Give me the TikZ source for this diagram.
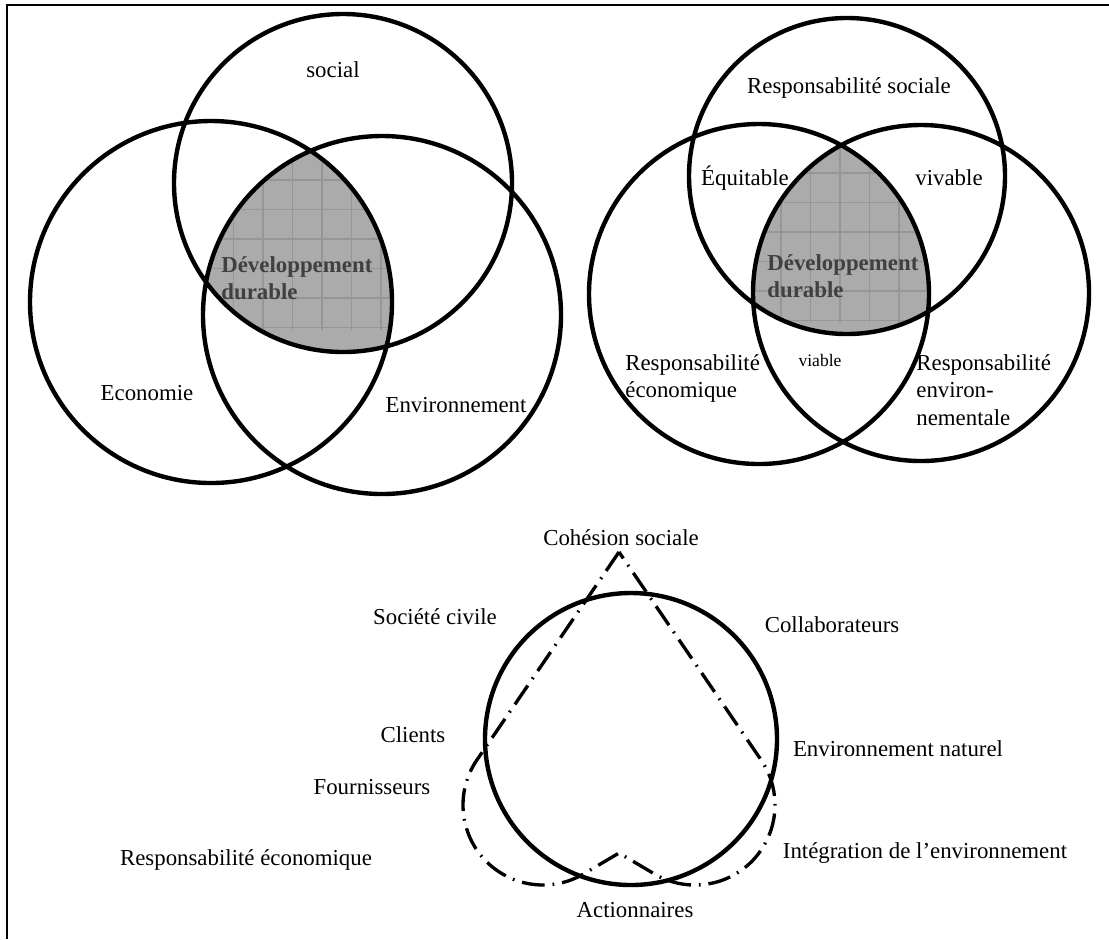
\documentclass[tikz,border=0pt]{standalone}
\usepackage{fontspec}
\setmainfont{Liberation Serif}
\definecolor{ddfill}{HTML}{ABABAB}
\definecolor{ddgrid}{HTML}{969696}
\definecolor{ddtext}{HTML}{404040}

\begin{document}
\begin{tikzpicture}[ring/.style={line width=2.5pt},
    lbl/.style={inner sep=0pt,align=left,font=\fontsize{13}{15.5}\selectfont},
    small/.style={inner sep=0pt,font=\fontsize{10}{12}\selectfont},
    dd/.style={inner sep=0pt,align=left,text=ddtext,font=\fontsize{13}{15.5}\selectfont\bfseries},
    dashdot/.style={line width=1.9pt,dash pattern=on 13pt off 4.5pt on 1pt off 4.5pt}]
\useasboundingbox (0,0) rectangle (22.18,-18.78);
\draw[line width=1.5pt] (22.18,-0.1) -- (0.14,-0.1) -- (0.14,-18.78);

% left diagram
\coordinate (s1) at (6.86,-3.66);
\coordinate (e1) at (4.22,-6.04);
\coordinate (v1) at (7.64,-6.3);
\begin{scope}
  \clip (s1) circle (3.38); \clip (e1) circle (3.62); \clip (v1) circle (3.58);
  \fill[ddfill] (0,0) rectangle (11,-10);
  \draw[ddgrid,line width=0.6pt,shift={(5.26,-3.6)}] (-3,-3) grid[step=0.59] (3,3);
\end{scope}
\node[dd,anchor=west] (dd1) at (4.42,-5.57) {Développement\\durable};
\draw[ring] (s1) circle (3.38) (e1) circle (3.62) (v1) circle (3.58);
\node[lbl] (soc1) at (6.66,-1.4) {social};
\node[lbl] (eco1) at (2.94,-7.86) {Economie};
\node[lbl] (env1) at (9.12,-8.1) {Environnement};

% right diagram
\coordinate (s2) at (16.94,-3.52);
\coordinate (e2) at (15.18,-5.88);
\coordinate (v2) at (18.42,-5.86);
\begin{scope}
  \clip (s2) circle (3.16); \clip (e2) circle (3.4); \clip (v2) circle (3.36);
  \fill[ddfill] (11,0) rectangle (22,-10);
  \draw[ddgrid,line width=0.6pt,shift={(15.62,-3.46)}] (-3,-3) grid[step=0.59] (3,3);
\end{scope}
\node[dd,anchor=west] (dd2) at (15.34,-5.53) {Développement\\durable};
\draw[ring] (s2) circle (3.16) (e2) circle (3.4) (v2) circle (3.36);
\node[lbl] (soc2) at (16.98,-1.76) {Responsabilité sociale};
\node[lbl] (equ) at (14.9,-3.56) {Équitable};
\node[lbl] (viv) at (18.98,-3.56) {vivable};
\node[small] (via) at (16.4,-7.2) {viable};
\node[lbl,anchor=west] (eco2) at (12.5,-7.57) {Responsabilité\\économique};
\node[lbl,anchor=west] (env2) at (18.32,-7.8) {Responsabilité\\environ-\\nementale};

% bottom diagram
\coordinate (top) at (12.38,-11.04);
\coordinate (lobeL) at (10.86,-16.1);
\coordinate (lobeR) at (13.9,-16.1);
\coordinate (notch) at (12.38,-17.06);
\draw[ring] (12.62,-14.78) circle (2.92);
\draw[dashdot] (top) -- ([shift={(145.7:1.6)}]lobeL) arc[start angle=145.7,end angle=300,radius=1.6]
  -- (notch) -- ([shift={(240:1.6)}]lobeR) arc[start angle=240,end angle=394.3,radius=1.6] -- cycle;
\node[lbl] (coh) at (12.42,-10.76) {Cohésion sociale};
\node[lbl] (civ) at (8.7,-12.34) {Société civile};
\node[lbl] (col) at (16.64,-12.5) {Collaborateurs};
\node[lbl] (cli) at (8.26,-14.7) {Clients};
\node[lbl] (nat) at (17.96,-14.98) {Environnement naturel};
\node[lbl] (fou) at (7.44,-15.74) {Fournisseurs};
\node[lbl] (reco) at (4.92,-17.2) {Responsabilité économique};
\node[lbl] (inte) at (18.5,-17.06) {Intégration de l’environnement};
\node[lbl] (act) at (12.7,-18.2) {Actionnaires};
\end{tikzpicture}
\end{document}
